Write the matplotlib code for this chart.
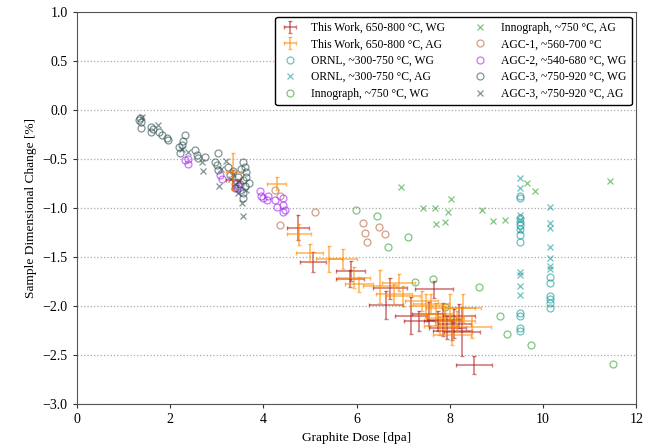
import matplotlib
matplotlib.use("Agg")
import matplotlib.pyplot as plt

plt.rcParams['font.family'] = ['Liberation Serif', 'DejaVu Serif']
plt.rcParams['font.size'] = 10

# This Work, WG: dose, change, dose err, change err
tw_wg_x = [3.36, 4.75, 5.07, 5.88, 5.85, 6.72, 6.63, 7.17, 7.66, 7.86, 8.26, 8.52,
           7.55, 7.95, 8.10, 8.05, 7.75, 8.20, 7.35]
tw_wg_y = [-0.71, -1.20, -1.55, -1.64, -1.72, -1.82, -1.99, -2.10, -1.83, -2.14, -2.26, -2.60,
           -2.08, -2.22, -2.18, -2.25, -2.15, -2.10, -2.15]
tw_wg_xe = [0.15, 0.24, 0.28, 0.31, 0.30, 0.37, 0.37, 0.34, 0.41, 0.35, 0.38, 0.38,
            0.35, 0.40, 0.36, 0.42, 0.30, 0.35, 0.33]
tw_wg_ye = [0.10, 0.13, 0.10, 0.10, 0.09, 0.11, 0.14, 0.19, 0.09, 0.17, 0.25, 0.09,
            0.12, 0.12, 0.15, 0.10, 0.10, 0.12, 0.10]

# This Work, AG
tw_ag_x = [3.36, 4.29, 4.77, 5.00, 5.40, 5.70, 5.95, 6.05, 6.50, 6.90, 7.00, 6.80,
           7.40, 7.50, 8.01, 8.29, 8.47, 7.70, 7.90, 8.15, 7.60, 8.05, 7.80]
tw_ag_y = [-0.63, -0.75, -1.27, -1.46, -1.52, -1.52, -1.71, -1.78, -1.80, -1.76, -1.90, -1.88,
           -1.95, -2.00, -2.02, -2.02, -2.21, -2.08, -2.12, -2.15, -1.98, -2.30, -2.20]
tw_ag_xe = [0.16, 0.20, 0.26, 0.29, 0.28, 0.30, 0.34, 0.30, 0.37, 0.35, 0.37, 0.38,
            0.35, 0.36, 0.52, 0.38, 0.41, 0.35, 0.40, 0.38, 0.38, 0.40, 0.36]
tw_ag_ye = [0.19, 0.07, 0.11, 0.09, 0.13, 0.10, 0.11, 0.08, 0.17, 0.09, 0.10, 0.10,
            0.10, 0.12, 0.14, 0.14, 0.12, 0.11, 0.12, 0.10, 0.10, 0.10, 0.10]

# ORNL
ornl_wg_x = [9.51] * 12 + [10.15] * 6
ornl_wg_y = [-0.88, -0.90, -1.14, -1.17, -1.21, -1.28, -1.35, -2.07, -2.10, -2.22, -2.25, -1.10,
             -1.70, -1.76, -1.90, -1.93, -1.97, -2.02]
ornl_ag_x = [9.51] * 9 + [10.15] * 7
ornl_ag_y = [-0.69, -0.80, -1.07, -1.12, -1.22, -1.65, -1.68, -1.80, -1.89,
             -0.99, -1.15, -1.20, -1.40, -1.51, -1.59, -1.62]

# Innograph
inno_wg_x = [5.99, 6.43, 7.10, 6.68, 7.26, 7.63, 8.62, 7.90, 8.07, 9.07, 9.22, 9.75, 11.51]
inno_wg_y = [-1.02, -1.08, -1.30, -1.40, -1.75, -1.72, -1.81, -2.01, -2.13, -2.10, -2.29, -2.40, -2.59]
inno_ag_x = [6.96, 7.43, 7.69, 7.96, 8.03, 7.70, 7.90, 8.69, 8.92, 9.19, 9.65, 9.82, 11.43]
inno_ag_y = [-0.79, -1.00, -1.00, -1.04, -0.91, -1.16, -1.14, -1.02, -1.13, -1.12, -0.74, -0.83, -0.72]

# AGC-1
agc1_x = [4.25, 4.36, 4.36, 5.11, 6.13, 6.18, 6.22, 6.48, 6.62]
agc1_y = [-0.82, -0.88, -1.17, -1.04, -1.15, -1.25, -1.35, -1.19, -1.27]

# AGC-2
agc2_x = [2.32, 2.39, 2.39, 3.07, 3.11, 3.39, 3.43, 3.46, 3.50, 3.93, 3.96, 4.00, 4.07, 4.11,
          4.25, 4.29, 4.43, 4.43, 4.47, 4.43]
agc2_y = [-0.51, -0.50, -0.55, -0.66, -0.70, -0.75, -0.80, -0.78, -0.82, -0.83, -0.88, -0.90, -0.92, -0.88,
          -0.92, -0.99, -0.90, -0.97, -1.02, -1.04]

# AGC-3
agc3_wg_x = [1.35, 1.38, 1.33, 1.37, 1.60, 1.60, 1.63, 1.76, 1.82, 1.93, 1.95, 2.32, 2.28, 2.25,
             2.21, 2.53, 2.57, 2.60, 2.75, 3.02, 2.96, 3.00, 3.03, 3.57, 3.61, 3.64, 3.57, 3.61,
             3.57, 3.57, 3.25, 3.35, 3.45, 3.50, 3.40, 2.20, 3.28, 3.62, 3.70, 3.52]
agc3_wg_y = [-0.08, -0.12, -0.10, -0.18, -0.17, -0.22, -0.19, -0.22, -0.26, -0.29, -0.31, -0.26, -0.32, -0.36,
             -0.44, -0.41, -0.46, -0.49, -0.48, -0.44, -0.53, -0.56, -0.61, -0.53, -0.58, -0.63, -0.71, -0.78,
             -0.85, -0.90, -0.58, -0.62, -0.68, -0.75, -0.80, -0.38, -0.66, -0.68, -0.74, -0.60]
agc3_ag_x = [1.40, 1.74, 2.39, 2.68, 2.70, 3.06, 3.57, 3.20, 3.30, 3.45, 3.55, 3.35, 2.25, 3.10,
             3.48, 3.62, 3.40]
agc3_ag_y = [-0.07, -0.15, -0.43, -0.53, -0.62, -0.78, -1.08, -0.52, -0.70, -0.85, -0.95, -0.65, -0.40, -0.60,
             -0.72, -0.82, -0.76]

c_red = '#b22222'
c_orange = '#ff8c00'
c_ornl = '#109999'
c_inno = '#2ca02c'
c_agc1 = '#b8603a'
c_agc2 = '#a020f0'
c_agc3 = '#2f4f4f'

fig, ax = plt.subplots(figsize=(6.56, 4.44), dpi=100)
fig.subplots_adjust(left=0.117, right=0.97, top=0.973, bottom=0.09)

h1 = ax.errorbar(tw_wg_x, tw_wg_y, xerr=tw_wg_xe, yerr=tw_wg_ye, fmt='none', ecolor=c_red,
                 elinewidth=1.2, capsize=1.5, alpha=0.6, label='This Work, 650-800 °C, WG', zorder=3)
h2 = ax.errorbar(tw_ag_x, tw_ag_y, xerr=tw_ag_xe, yerr=tw_ag_ye, fmt='none', ecolor=c_orange,
                 elinewidth=1.2, capsize=1.5, alpha=0.6, label='This Work, 650-800 °C, AG', zorder=3)

mk = dict(linestyle='none', markersize=5, markeredgewidth=0.9)
h3, = ax.plot(ornl_wg_x, ornl_wg_y, 'o', mfc='none', color=c_ornl, alpha=0.6, label='ORNL, ~300-750 °C, WG', **mk)
h4, = ax.plot(ornl_ag_x, ornl_ag_y, 'x', color=c_ornl, alpha=0.6, label='ORNL, ~300-750 °C, AG', **mk)
h5, = ax.plot(inno_wg_x, inno_wg_y, 'o', mfc='none', color=c_inno, alpha=0.6, label='Innograph, ~750 °C, WG', **mk)
h6, = ax.plot(inno_ag_x, inno_ag_y, 'x', color=c_inno, alpha=0.6, label='Innograph, ~750 °C, AG', **mk)
h7, = ax.plot(agc1_x, agc1_y, 'o', mfc='none', color=c_agc1, alpha=0.6, label='AGC-1, ~560-700 °C', **mk)
h8, = ax.plot(agc2_x, agc2_y, 'o', mfc='none', color=c_agc2, alpha=0.6, label='AGC-2, ~540-680 °C, WG', **mk)
h9, = ax.plot(agc3_wg_x, agc3_wg_y, 'o', mfc='none', color=c_agc3, alpha=0.6, label='AGC-3, ~750-920 °C, WG', **mk)
h10, = ax.plot(agc3_ag_x, agc3_ag_y, 'x', color=c_agc3, alpha=0.6, label='AGC-3, ~750-920 °C, AG', **mk)

ax.set_xlim(0, 12)
ax.set_ylim(-3.0, 1.0)
ax.set_xticks(range(0, 13, 2))
ax.set_yticks([1.0, 0.5, 0.0, -0.5, -1.0, -1.5, -2.0, -2.5, -3.0])
ax.yaxis.grid(True, linestyle=':', color='#aaaaaa', linewidth=0.9)
ax.set_axisbelow(True)
for s in ax.spines.values():
    s.set_color('#555555')
ax.tick_params(colors='#333333', labelcolor='black', length=3)

ax.set_xlabel('Graphite Dose [dpa]', fontsize=9.6)
ax.set_ylabel('Sample Dimensional Change [%]', fontsize=9.6)

leg = ax.legend(handles=[h1, h2, h3, h4, h5, h6, h7, h8, h9, h10], ncol=2, loc='upper right',
                frameon=True, edgecolor='black', framealpha=1, fontsize=8.4,
                borderaxespad=0.4, handlelength=1.6, columnspacing=2.2, labelspacing=0.38,
                borderpad=0.45, handletextpad=1.0)
leg.get_frame().set_linewidth(1.0)

plt.savefig('out.png', dpi=100)
